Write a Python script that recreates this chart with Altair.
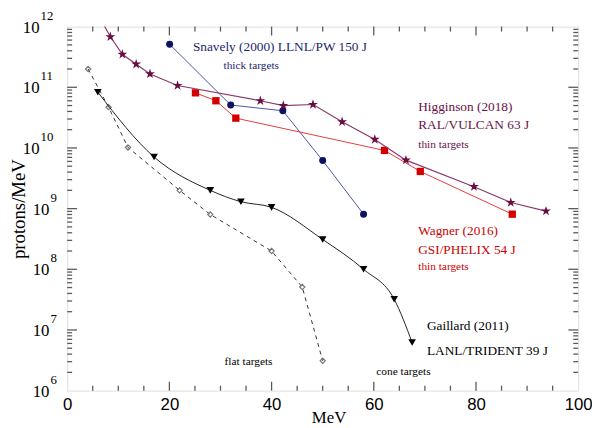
import altair as alt
import pandas as pd

# ---------------- data ----------------
hig_mev = [6.0, 8.45, 10.8, 13.5, 16.2, 21.6, 37.8, 42.3, 48.1, 53.8, 60.2, 66.3, 79.6, 86.8, 93.7]
hig_val = [1.6e12, 6.8e11, 3.5e11, 2.4e11, 1.66e11, 1.07e11, 6.0e10, 5.0e10, 5.2e10, 2.7e10,
           1.38e10, 6.3e9, 2.3e9, 1.26e9, 9.1e8]

wag_mev = [25.1, 29.1, 33.0, 62.1, 69.1, 87.1]
wag_val = [8.1e10, 6.0e10, 3.1e10, 9.1e9, 4.1e9, 8.1e8]

sna_mev = [20.05, 32.0, 42.2, 50.0, 58.0]
sna_val = [5.1e11, 5.1e10, 4.1e10, 6.2e9, 8.1e8]

gai_mev = [6.0, 17.0, 28.0, 34.0, 40.0, 50.0, 58.0, 64.0, 67.5]
gai_val = [8.3e10, 7.1e9, 2.0e9, 1.3e9, 1.05e9, 3.1e8, 1.0e8, 3.2e7, 6.2e6]

flat_mev = [4.1, 8.1, 11.9, 22.0, 28.0, 40.0, 46.0, 50.0]
flat_val = [2.0e11, 4.7e10, 1.02e10, 2.0e9, 8.0e8, 2.0e8, 5.1e7, 3.1e6]

x_major = [0, 20, 40, 60, 80, 100]
x_minor = [v for v in range(5, 100, 5) if v % 20 != 0]
y_major = [1e6, 1e7, 1e8, 1e9, 1e10, 1e11, 1e12]
y_minor = [m * 10 ** e for e in range(6, 12) for m in range(2, 10)]

# y tick labels: "10" with a raised exponent
ylab_one_val = [1e6, 1e7, 1e8, 1e9]
ylab_one_exp = ["6", "7", "8", "9"]
ylab_two_val = [1e10, 1e11, 1e12]
ylab_two_exp = ["10", "11", "12"]

sna_text = ["Snavely (2000) LLNL/PW 150 J", "thick targets"]
sna_tx = [24.6, 30.6]
sna_ty = [4.6e11, 2.25e11]

hig_text = ["Higginson (2018)", "RAL/VULCAN 63 J", "thin targets"]
hig_tx = [68.7, 68.7, 68.7]
hig_ty = [4.7e10, 2.35e10, 1.12e10]

wag_text = ["Wagner (2016)", "GSI/PHELIX 54 J", "thin targets"]
wag_tx = [68.7, 68.7, 68.7]
wag_ty = [4.3e8, 2.1e8, 1.07e8]

gai_text = ["Gaillard (2011)", "LANL/TRIDENT 39 J"]
gai_tx = [70.4, 70.4]
gai_ty = [1.17e7, 4.5e6]

misc_text = ["flat targets", "cone targets"]
misc_tx = [30.8, 60.5]
misc_ty = [3.0e6, 2.05e6]

# ---------------- layout ----------------
W, H = 518, 369
SERIF = "Liberation Serif"
SANS = "Liberation Sans"
FRAME = "#5a5a5a"

x_axis = alt.Axis(values=x_major, format="d", ticks=False, domain=False, grid=False,
                  title="MeV", titleFont=SERIF, titleFontSize=17, titleFontWeight="normal",
                  titleColor="#000", titlePadding=-3, titleX=W / 2 + 6,
                  labelFont=SANS, labelFontSize=17,
                  labelColor="#000", labelPadding=6, labelFlush=False)
y_axis = alt.Axis(values=y_major, labels=False, ticks=False, domain=False, grid=False,
                  title="protons/MeV", titleFont=SERIF, titleFontSize=19, titleFontWeight="normal",
                  titleColor="#000", titlePadding=39)
x_scale = alt.Scale(domain=[0, 100], nice=False, zero=False)
y_scale = alt.Scale(type="log", domain=[1e6, 1e12], nice=False)


def X(f):
    return alt.X(f + ":Q", scale=x_scale, axis=x_axis)


def Y(f):
    return alt.Y(f + ":Q", scale=y_scale, axis=y_axis)


def frame(m, v):
    return pd.DataFrame({"mev": m, "val": v})


layers = []

# ticks (inward, mirrored on all four sides)
dxM = pd.DataFrame({"t": x_major[1:-1]})
dxm = pd.DataFrame({"t": x_minor})
dyM = pd.DataFrame({"t": y_major[1:-1]})
dym = pd.DataFrame({"t": y_minor})
tick = dict(color=FRAME, strokeWidth=1.3)
for d, ln in [(dxM, 9), (dxm, 5)]:
    layers.append(alt.Chart(d).mark_rule(**tick).encode(x=X("t"), y=alt.value(H), y2=alt.value(H - ln)))
    layers.append(alt.Chart(d).mark_rule(**tick).encode(x=X("t"), y=alt.value(0), y2=alt.value(ln)))
for d, ln in [(dyM, 10), (dym, 5)]:
    layers.append(alt.Chart(d).mark_rule(**tick).encode(y=Y("t"), x=alt.value(0), x2=alt.value(ln)))
    layers.append(alt.Chart(d).mark_rule(**tick).encode(y=Y("t"), x=alt.value(W), x2=alt.value(W - ln)))

# y tick labels: base "10" and superscript exponent
for vals, exps, base_end in [(ylab_one_val, ylab_one_exp, -18), (ylab_two_val, ylab_two_exp, -28)]:
    d = pd.DataFrame({"t": vals, "e": exps})
    layers.append(alt.Chart(d).mark_text(text="10", font=SERIF, fontSize=17, color="#000",
                                         align="right", baseline="alphabetic", dy=6)
                  .encode(y=Y("t"), x=alt.value(base_end)))
    layers.append(alt.Chart(d).mark_text(font=SERIF, fontSize=13, color="#000",
                                         align="left", baseline="alphabetic", dy=-7)
                  .encode(y=Y("t"), x=alt.value(base_end + 1), text="e:N"))

# flat targets (dashed, open diamonds)
df_flat = frame(flat_mev, flat_val)
layers.append(alt.Chart(df_flat).mark_line(color="#333333", strokeWidth=1, strokeDash=[4, 4]).encode(x=X("mev"), y=Y("val")))
layers.append(alt.Chart(df_flat).mark_point(shape="diamond", size=28, filled=False, color="#777777", strokeWidth=1.2, opacity=1).encode(x=X("mev"), y=Y("val")))

# Gaillard
df_gai = frame(gai_mev, gai_val)
layers.append(alt.Chart(df_gai).mark_line(color="#222222", strokeWidth=1, interpolate="monotone").encode(x=X("mev"), y=Y("val")))
layers.append(alt.Chart(df_gai).mark_point(shape="triangle-down", size=60, filled=True, color="#000000", opacity=1).encode(x=X("mev"), y=Y("val")))

# Snavely
df_sna = frame(sna_mev, sna_val)
layers.append(alt.Chart(df_sna).mark_line(color="#4a55a8", strokeWidth=1).encode(x=X("mev"), y=Y("val")))
layers.append(alt.Chart(df_sna).mark_point(shape="circle", size=50, filled=True, color="#0c1260", opacity=1).encode(x=X("mev"), y=Y("val")))

# Wagner
df_wag = frame(wag_mev, wag_val)
layers.append(alt.Chart(df_wag).mark_line(color="#e83a3a", strokeWidth=1).encode(x=X("mev"), y=Y("val")))
layers.append(alt.Chart(df_wag).mark_point(shape="square", size=55, filled=True, color="#d40000", opacity=1).encode(x=X("mev"), y=Y("val")))

# Higginson
df_hig = frame(hig_mev, hig_val)
layers.append(alt.Chart(df_hig).mark_line(color="#8a3a6c", strokeWidth=1.2, clip=True).encode(x=X("mev"), y=Y("val")))
layers.append(alt.Chart(df_hig).mark_point(shape="M0,-1L0.2245,-0.309L0.951,-0.309L0.3633,0.118L0.5878,0.809L0,0.382L-0.5878,0.809L-0.3633,0.118L-0.951,-0.309L-0.2245,-0.309Z",
                                           size=110, filled=True, color="#6b0d45", opacity=1, clip=True).encode(x=X("mev"), y=Y("val")))


def notes(texts, xs, ys, color, sizes):
    d = pd.DataFrame({"mev": xs, "val": ys, "txt": texts, "fs": sizes})
    return alt.Chart(d).mark_text(align="left", baseline="middle", font=SERIF, color=color).encode(
        x=X("mev"), y=Y("val"), text="txt:N", size=alt.Size("fs:Q", scale=None, legend=None))


layers.append(notes(sna_text, sna_tx, sna_ty, "#1c1f6e", [13.5, 11.5]))
layers.append(notes(hig_text, hig_tx, hig_ty, "#6b1049", [13.5, 13.5, 11.5]))
layers.append(notes(wag_text, wag_tx, wag_ty, "#cc0000", [13.5, 13.5, 11.5]))
layers.append(notes(gai_text, gai_tx, gai_ty, "#000000", [13.5, 13.5]))
layers.append(notes(misc_text, misc_tx, misc_ty, "#000000", [11.5, 11.5]))

chart = alt.layer(*layers).properties(
    width=W, height=H,
    autosize=alt.AutoSizeParams(type="none"),
    padding={"left": 60, "top": 16, "right": 14, "bottom": 34},
).configure_view(stroke=FRAME, strokeWidth=2).configure(background="white")

chart.save("out.html", embed_options={"renderer": "svg", "actions": False})
